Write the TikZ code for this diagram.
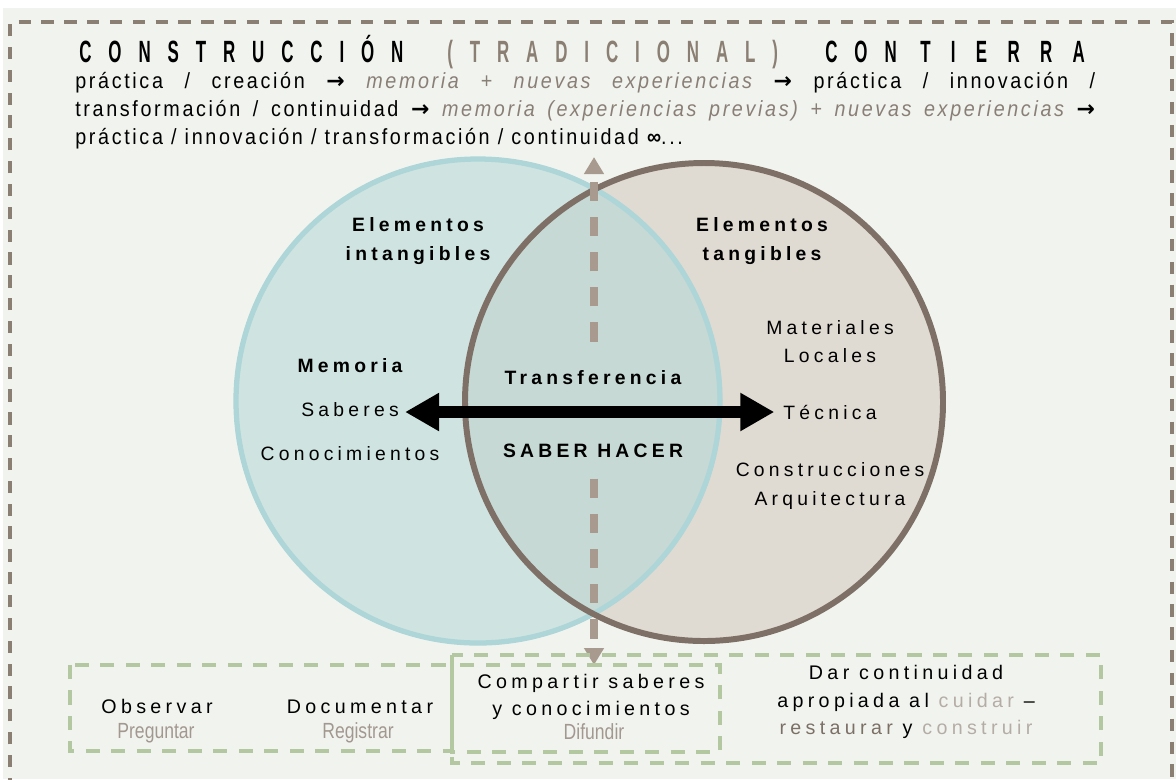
\documentclass[tikz,border=0pt]{standalone}
\usepackage{fontspec}
\setmainfont{Liberation Sans}
\usetikzlibrary{arrows.meta}

\newfontfamily\titlefont[FakeStretch=0.55,LetterSpace=55]{Liberation Sans}
\newfontfamily\titlewide[FakeStretch=0.55,LetterSpace=66]{Liberation Sans}
\newfontfamily\bodyfont[FakeStretch=0.9,LetterSpace=12]{Liberation Sans}
\newfontfamily\labelfont[LetterSpace=22]{Liberation Sans}
\newfontfamily\narrowfont[FakeStretch=0.8]{Liberation Sans}
\newfontfamily\arrowfont{DejaVu Sans}

\definecolor{bgcol}{HTML}{F1F4EE}
\definecolor{framecol}{HTML}{8B7E73}
\definecolor{tealfill}{HTML}{CFE4E1}
\definecolor{tealline}{HTML}{AED5D7}
\definecolor{beigefill}{HTML}{E0DBD2}
\definecolor{brownline}{HTML}{7E7066}
\definecolor{overlapfill}{HTML}{C6D9D5}
\definecolor{arrowgrey}{HTML}{A89A8E}
\definecolor{italgrey}{HTML}{8A7F77}
\definecolor{hintgrey}{HTML}{A39890}
\definecolor{softgrey}{HTML}{B5ACA5}
\definecolor{darkgrey}{HTML}{7C6F66}
\definecolor{boxgreen}{HTML}{B3C7A0}

\newcommand{\flecha}{{\arrowfont\bfseries →}}

\tikzset{
  frame/.style={draw=framecol, line width=2.2pt, dash pattern=on 7pt off 6pt},
  greenbox/.style={draw=boxgreen, line width=2pt, dash pattern=on 8pt off 6.5pt},
  circlbl/.style={font=\labelfont\fontsize{11}{16}\selectfont, align=center, inner sep=0pt},
  circhead/.style={circlbl, font=\labelfont\bfseries\fontsize{11}{16}\selectfont},
  actlbl/.style={font=\labelfont\fontsize{11.2}{15}\selectfont, align=center, inner sep=0pt},
  hintlbl/.style={font=\narrowfont\fontsize{12.5}{14}\selectfont, text=hintgrey, inner sep=0pt},
  titlelbl/.style={font=\titlefont\bfseries\fontsize{17.5}{20}\selectfont, inner sep=0pt, anchor=base west},
  transfarrow/.style={arrowgrey, line width=4pt, dash pattern=on 11pt off 9pt,
    -{Triangle[length=0.34cm, width=0.38cm]}}
}

\begin{document}
\begin{tikzpicture}[x=0.02cm, y=-0.02cm]
  \useasboundingbox (0,0) rectangle (1176,779);
  \fill[white] (0,0) rectangle (1176,779);
  \fill[bgcol] (3,8) rectangle (1176,779);

  % marco exterior
  \draw[frame] (10,790) -- (10,22) -- (1172,22) -- (1172,790);

  % titulo
  \node[titlelbl] (tit1) at (79,62) {CONSTRUCCIÓN};
  \node[titlelbl, text=framecol] (tit2) at (447,62) {(TRADICIONAL)};
  \node[titlelbl] (tit3) at (825,62) {CON};
  \node[titlelbl, font=\titlewide\bfseries\fontsize{17.5}{20}\selectfont] (tit4) at (920,62) {TIERRA};

  % texto ciclo
  \node[anchor=north west, inner sep=0pt, text width=20.4cm, align=justify,
        font=\bodyfont\fontsize{12.5}{15.9}\selectfont] (ciclo) at (75,72)
    {práctica / creación \flecha{} {\itshape\color{italgrey}memoria + nuevas experiencias} \flecha{} práctica / innovación /\linebreak
     transformación / continuidad \flecha{} {\itshape\color{italgrey}memoria (experiencias previas) + nuevas experiencias} \flecha\linebreak
     práctica / innovación / transformación / continuidad {\bfseries ∞}...};

  % circulos
  \fill[beigefill] (704,402) circle (241);
  \fill[tealfill] (478,401) circle (244);
  \begin{scope}
    \clip (704,402) circle (241);
    \fill[overlapfill] (478,401) circle (244);
  \end{scope}
  \draw[tealline, line width=3pt] (478,401) circle (242);
  \draw[brownline, line width=3.4pt] (704,402) circle (239);

  % textos circulo izquierdo
  \node[circhead] (intang) at (418,241) {Elementos\\intangibles};
  \node[circhead, anchor=base] (memoria) at (350,372) {Memoria};
  \node[circlbl, anchor=base] (saberes) at (350,416) {Saberes};
  \node[circlbl, anchor=base] (conoc) at (350,460) {Conocimientos};

  % interseccion
  \node[circhead, anchor=base] (transf) at (593,384) {Transferencia};
  \node[circhead, anchor=base] (saberhacer) at (593,457) {SABER HACER};

  % textos circulo derecho
  \node[circhead] (tang) at (762,241) {Elementos\\tangibles};
  \node[circlbl] (mater) at (830,342) {Materiales\\Locales};
  \node[circlbl, anchor=base] (tecnica) at (830,419) {Técnica};
  \node[circlbl] (constr) at (830,486) {Construcciones\\Arquitectura};

  % flecha vertical
  \coordinate (arribatop) at (594,157);
  \coordinate (abajobot) at (594,665);
  \draw[transfarrow, shorten <=16] (transf.north -| arribatop) -- (arribatop);
  \draw[transfarrow, shorten <=12] (saberhacer.south -| abajobot) -- (abajobot);

  % flecha horizontal
  \draw[line width=6.8pt, {Triangle[length=0.68cm, width=0.72cm]}-{Triangle[length=0.68cm, width=0.72cm]}]
        (saberes.east |- 0,412) ++(6,0) -- ([xshift=-5]tecnica.west |- 0,412);

  % cajas inferiores
  \draw[greenbox] (452,655) rectangle (1101,763);
  \draw[greenbox] (70,665) rectangle (452,751);
  \draw[greenbox] (452,665) rectangle (720,752);

  \node[actlbl, anchor=base] (observar) at (157,713) {Observar};
  \node[hintlbl] (preguntar) at (156,733) {Preguntar};
  \node[actlbl, anchor=base] (document) at (360,713) {Documentar};
  \node[hintlbl] (registrar) at (358,733) {Registrar};
  \node[actlbl] (compartir) at (591,697) {Compartir saberes\\y conocimientos};
  \node[hintlbl] (difundir) at (594,732) {Difundir};
  \node[actlbl, font=\labelfont\fontsize{11.2}{15.6}\selectfont] (continuidad) at (906,702)
    {Dar continuidad\\apropiada al {\color{softgrey}cuidar} –\\{\color{darkgrey}restaurar} y {\color{softgrey}construir}};
\end{tikzpicture}
\end{document}
